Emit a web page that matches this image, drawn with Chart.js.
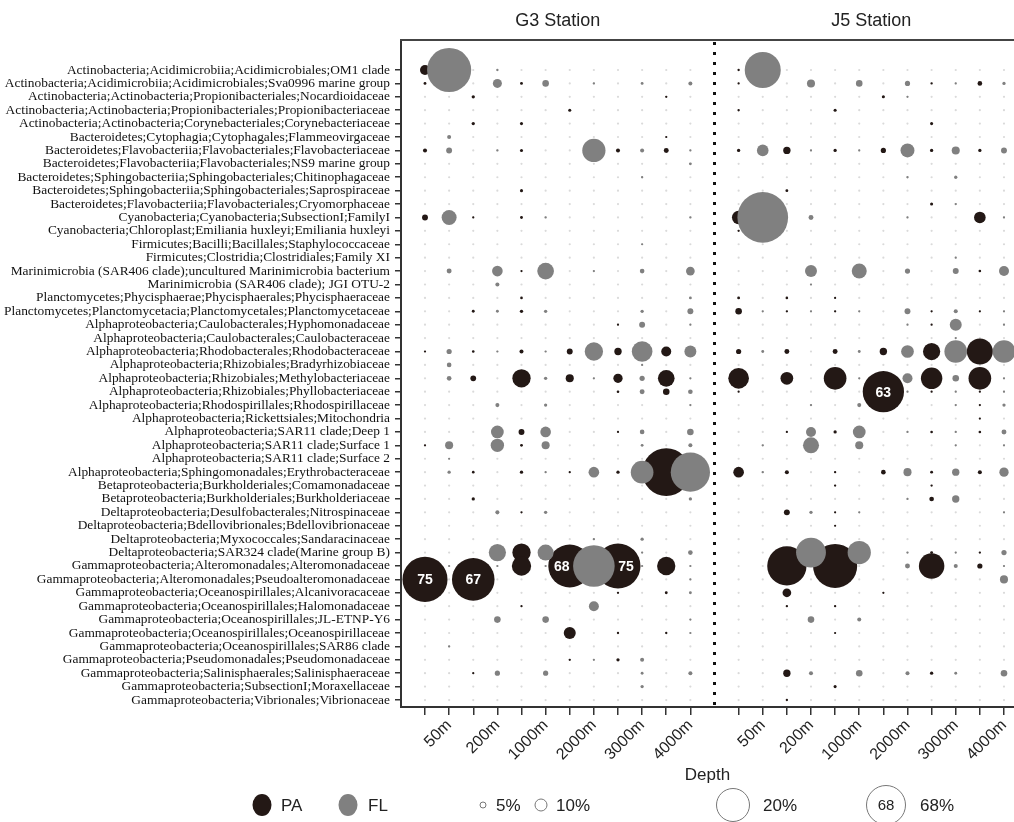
<!DOCTYPE html>
<html><head><meta charset="utf-8">
<script src="https://cdn.jsdelivr.net/npm/chart.js@4.4.0/dist/chart.umd.min.js"></script>
<style>html,body{margin:0;padding:0;background:#fff;}#wrap{width:1014px;height:822px;}</style>
</head><body><div id="wrap"><canvas id="c" width="1014" height="822"></canvas></div>
<script>
const taxa = [
"Actinobacteria;Acidimicrobiia;Acidimicrobiales;OM1 clade",
"Actinobacteria;Acidimicrobiia;Acidimicrobiales;Sva0996 marine group",
"Actinobacteria;Actinobacteria;Propionibacteriales;Nocardioidaceae",
"Actinobacteria;Actinobacteria;Propionibacteriales;Propionibacteriaceae",
"Actinobacteria;Actinobacteria;Corynebacteriales;Corynebacteriaceae",
"Bacteroidetes;Cytophagia;Cytophagales;Flammeovirgaceae",
"Bacteroidetes;Flavobacteriia;Flavobacteriales;Flavobacteriaceae",
"Bacteroidetes;Flavobacteriia;Flavobacteriales;NS9 marine group",
"Bacteroidetes;Sphingobacteriia;Sphingobacteriales;Chitinophagaceae",
"Bacteroidetes;Sphingobacteriia;Sphingobacteriales;Saprospiraceae",
"Bacteroidetes;Flavobacteriia;Flavobacteriales;Cryomorphaceae",
"Cyanobacteria;Cyanobacteria;SubsectionI;FamilyI",
"Cyanobacteria;Chloroplast;Emiliania huxleyi;Emiliania huxleyi",
"Firmicutes;Bacilli;Bacillales;Staphylococcaceae",
"Firmicutes;Clostridia;Clostridiales;Family XI",
"Marinimicrobia (SAR406 clade);uncultured Marinimicrobia bacterium",
"Marinimicrobia (SAR406 clade); JGI OTU-2",
"Planctomycetes;Phycisphaerae;Phycisphaerales;Phycisphaeraceae",
"Planctomycetes;Planctomycetacia;Planctomycetales;Planctomycetaceae",
"Alphaproteobacteria;Caulobacterales;Hyphomonadaceae",
"Alphaproteobacteria;Caulobacterales;Caulobacteraceae",
"Alphaproteobacteria;Rhodobacterales;Rhodobacteraceae",
"Alphaproteobacteria;Rhizobiales;Bradyrhizobiaceae",
"Alphaproteobacteria;Rhizobiales;Methylobacteriaceae",
"Alphaproteobacteria;Rhizobiales;Phyllobacteriaceae",
"Alphaproteobacteria;Rhodospirillales;Rhodospirillaceae",
"Alphaproteobacteria;Rickettsiales;Mitochondria",
"Alphaproteobacteria;SAR11 clade;Deep 1",
"Alphaproteobacteria;SAR11 clade;Surface 1",
"Alphaproteobacteria;SAR11 clade;Surface 2",
"Alphaproteobacteria;Sphingomonadales;Erythrobacteraceae",
"Betaproteobacteria;Burkholderiales;Comamonadaceae",
"Betaproteobacteria;Burkholderiales;Burkholderiaceae",
"Deltaproteobacteria;Desulfobacterales;Nitrospinaceae",
"Deltaproteobacteria;Bdellovibrionales;Bdellovibrionaceae",
"Deltaproteobacteria;Myxococcales;Sandaracinaceae",
"Deltaproteobacteria;SAR324 clade(Marine group B)",
"Gammaproteobacteria;Alteromonadales;Alteromonadaceae",
"Gammaproteobacteria;Alteromonadales;Pseudoalteromonadaceae",
"Gammaproteobacteria;Oceanospirillales;Alcanivoracaceae",
"Gammaproteobacteria;Oceanospirillales;Halomonadaceae",
"Gammaproteobacteria;Oceanospirillales;JL-ETNP-Y6",
"Gammaproteobacteria;Oceanospirillales;Oceanospirillaceae",
"Gammaproteobacteria;Oceanospirillales;SAR86 clade",
"Gammaproteobacteria;Pseudomonadales;Pseudomonadaceae",
"Gammaproteobacteria;Salinisphaerales;Salinisphaeraceae",
"Gammaproteobacteria;SubsectionI;Moraxellaceae",
"Gammaproteobacteria;Vibrionales;Vibrionaceae"
];
const depths = ["50m","200m","1000m","2000m","3000m","4000m"];
const stations = ["G3 Station","J5 Station"];

// relative abundance (%) per taxon (rows) and depth (columns 50..4000m)
const g3PA = [
[3.7,0,0,0,0,0],[0.3,0,0.3,0,0,0],[0,0.4,0,0,0,0.2],[0,0,0,0.35,0,0],[0,0.4,0.35,0,0,0],
[0,0,0,0,0,0.1],[0.6,0,0.35,0,0.6,0.9],[0,0,0,0,0,0],[0,0,0,0,0,0],[0,0,0.35,0,0,0],
[0,0,0,0,0,0],[1.3,0.15,0.3,0,0,0],[0,0,0,0,0,0],[0,0,0,0,0,0],[0,0,0,0,0,0],
[0,0,0.15,0,0,0],[0,0,0,0,0,0],[0,0,0.25,0,0,0],[0,0.3,0.4,0,0,0],[0,0,0,0,0.15,0],
[0,0,0,0,0,0],[0.15,0.25,0.6,1.3,2,3.7],[0,0,0,0,0,0],[0,1.2,12.4,2.4,3.2,10.3],[0,0,0,0,0.25,1.6],
[0,0,0,0,0,0],[0,0,0,0,0,0],[0,0,1.3,0,0.15,0],[0.15,0,0.3,0,0,0],[0,0,0,0,0,0],
[0,0.25,0.4,0.15,0.4,85],[0,0,0,0,0,0],[0,0.4,0,0,0,0],[0,0,0.15,0,0,0],[0,0,0,0,0,0],
[0,0,0,0,0,0],[0,0,12.4,0,0,0],[0,0,13.8,68,75,12.4],[75,67,0,0,0,0],[0,0,0,0,0.2,0.3],
[0,0,0.15,0,0,0],[0,0,0,0,0,0],[0,0,0,5.3,0.2,0.2],[0,0,0,0,0,0],[0,0,0,0.2,0.4,0],
[0,0.15,0,0,0,0],[0,0,0,0,0,0],[0,0,0,0,0,0]
];
const g3FL = [
[72,0.2,0,0,0,0],[0,3,1.6,0.2,0.3,0.6],[0,0,0,0,0,0],[0,0,0,0,0,0],[0,0,0,0,0,0],
[0.6,0,0,0,0,0],[1.3,0.2,0,20,0.6,0.15],[0,0,0,0,0,0.3],[0,0,0,0,0.2,0],[0,0,0,0,0,0],
[0,0,0,0,0,0],[8.3,0,0.2,0,0,0.2],[0,0,0,0,0,0],[0,0,0,0,0.15,0],[0,0,0,0,0,0],
[0.9,4.2,10.3,0.15,0.8,2.8],[0,0.6,0,0,0,0],[0,0,0,0,0,0.3],[0,0.3,0.4,0,0.4,1.3],[0,0,0,0,1.3,0.1],
[0,0,0,0,0,0],[1,0.1,0.15,12.4,15.8,5.3],[0.8,0,0,0,0.1,0],[0.8,0,0.4,0.15,1,0.15],[0,0,0,0,0.9,0.8],
[0,0.6,0.4,0,0,0.15],[0,0,0,0,0,0],[0,6,4.2,0,0.8,1.6],[2.4,6.6,2.4,0,0.3,0.6],[0.15,0,0,0,0,0],
[0.4,0,0.15,4.2,19,57],[0,0,0,0,0,0],[0,0,0,0,0,0.4],[0,0.6,0.4,0,0,0],[0,0,0,0,0,0],
[0,0,0,0.2,0.4,0],[0,11,9.5,0,0.15,0.8],[0.1,0.1,0.15,64,0.15,0.15],[0,0,0,0,0,0.1],[0,0,0,0,0,0.3],
[0,0,0,3.7,0,0],[0,1.6,1.6,0,0,0.15],[0,0,0,0,0,0.15],[0.2,0,0,0,0,0],[0,0,0,0.15,0.6,0],
[0,1,1,0,0.3,0.6],[0,0,0,0,0.4,0],[0,0,0,0,0,0]
];
const j5PA = [
[0.2,0,0,0,0,0],[0.15,0,0,0,0.2,0.8],[0,0,0,0.35,0,0],[0.2,0,0.35,0,0,0],[0,0,0,0,0.35,0],
[0,0,0,0,0,0],[0.4,2,0.4,1,0.4,0.4],[0,0,0,0,0,0],[0,0,0,0,0,0],[0,0.3,0,0,0,0],
[0,0,0,0,0.35,0],[6.6,0,0,0,0,5],[0.2,0,0,0,0,0],[0,0,0,0,0,0],[0,0,0,0,0,0],
[0,0,0,0,0,0.25],[0,0,0,0,0,0],[0.3,0.25,0.15,0,0,0],[1.6,0.2,0.2,0,0.1,0.15],[0,0,0,0,0.1,0],
[0,0,0,0,0,0],[1,0.9,0.9,2,11,25],[0,0,0,0,0,0],[15.8,6,19,0,17,19],[0.15,0,0,63,0.1,0.1],
[0,0,0,0,0,0.15],[0,0,0,0,0,0.1],[0,0.15,0.4,0,0.25,0.25],[0,0,0,0,0,0],[0,0,0,0,0,0],
[4.2,0.6,0.2,0.8,0.3,0.6],[0,0,0.2,0,0.2,0],[0,0,0,0,0.8,0],[0,1.3,0.15,0,0,0],[0,0,0.15,0,0,0],
[0,0,0,0,0,0],[0,0,0,0,0.3,0.2],[0,57,72,0,24,1],[0,0,0,0,0,0],[0,2.8,0,0.1,0,0],
[0,0.2,0.2,0,0,0],[0,0,0,0,0,0],[0,0,0.15,0,0,0],[0,0,0,0,0,0],[0,0,0,0,0,0],
[0,2,0,0,0.4,0],[0,0,0.35,0,0,0],[0,0.2,0,0,0,0]
];
const j5FL = [
[48,0,0,0,0,0],[0,2.4,1.6,1,0.15,0.4],[0,0,0,0.15,0,0],[0,0,0,0,0,0],[0,0,0,0,0,0],
[0,0,0,0,0,0],[5,0.15,0.15,7.2,2.4,1.3],[0,0,0,0,0,0],[0,0,0,0.2,0.4,0],[0,0,0,0,0,0],
[0,0,0,0,0.2,0],[95,0.9,0,0.15,0,0.15],[0,0,0,0,0,0],[0,0,0,0,0,0],[0,0,0,0,0.15,0],
[0,5.3,8.3,1,1.3,3.7],[0,0.15,0,0,0,0],[0,0,0,0,0,0],[0.1,0.15,0.15,1.3,0.6,0.15],[0,0,0,0.1,5.3,0.1],
[0,0,0,0,0.1,0],[0.3,0,0.3,6,19,19],[0,0,0,0,0,0],[0,0,0.15,3.7,1.6,0.15],[0,0,0,0.15,0.15,0.1],
[0,0.2,0.6,0,0.1,0.4],[0,0,0,0,0,0],[0,3.7,6,0.15,0.15,0.9],[0.2,9.5,2.4,0,0.15,0.15],[0,0,0,0,0,0],
[0.2,0,0,2.4,2,3.2],[0,0,0,0,0,0],[0,0,0,0.15,2,0],[0,0.4,0.15,0,0,0.1],[0,0,0,0,0,0],
[0,0,0,0,0,0],[0,33,20,0.2,0.15,1],[0,0,0,0.9,0.6,0.1],[0,0,0,0,0,2.4],[0,0,0,0,0,0],
[0,0,0,0,0,0],[0,1.6,0.6,0,0,0],[0,0,0,0,0,0],[0,0,0,0,0,0],[0,0,0,0,0,0],
[0,0.6,1.6,0.6,0.3,1.6],[0,0,0,0,0,0],[0,0,0,0,0,0]
];
// cells whose value is written inside the bubble: [station, taxon row, depth]
const labelledPA = [[0,38,0],[0,38,1],[0,37,3],[0,37,4],[1,24,3]];
const legendSizes = [5,10,20,68];

const COL_PA = "#231815", COL_FL = "#808080", COL_BG = "#dadada";
const K = 2.6;
const rOf = v => Math.max(1.1, K * Math.sqrt(v));
const colOf = (s, d, f) => s * 13 + d * 2 + f;
const mats = [[g3PA, g3FL], [j5PA, j5FL]];

function points(f) {
  const out = [];
  mats.forEach((m, s) => m[f].forEach((row, i) => row.forEach((v, d) => {
    if (v > 0) out.push({x: colOf(s, d, f), y: i, r: rOf(v), v, s, d});
  })));
  return out;
}
const bgPts = [];
for (let s = 0; s < 2; s++) for (let i = 0; i < taxa.length; i++) for (let c = 0; c < 12; c++)
  bgPts.push({x: s * 13 + c, y: i, r: 1.1});

const SANS = "'Liberation Sans', Arial, sans-serif";

const decor = {
  id: 'decor',
  beforeDatasetsDraw(chart) {
    const {ctx, chartArea: a, scales: {x}} = chart;
    ctx.save();
    ctx.strokeStyle = '#444'; ctx.lineWidth = 2;
    ctx.beginPath(); ctx.moveTo(a.left - 1, a.top); ctx.lineTo(a.right, a.top); ctx.stroke();
    const sx = Math.round(x.getPixelForValue(12)) + 0.5;
    ctx.strokeStyle = '#111'; ctx.lineWidth = 3; ctx.setLineDash([3, 7]);
    ctx.beginPath(); ctx.moveTo(sx, a.top + 2); ctx.lineTo(sx, a.bottom); ctx.stroke();
    ctx.setLineDash([]);
    ctx.fillStyle = '#222'; ctx.font = "18px " + SANS; ctx.textAlign = 'center'; ctx.textBaseline = 'middle';
    ctx.fillText(stations[0], x.getPixelForValue(5.5), 21);
    ctx.fillText(stations[1], x.getPixelForValue(18.5), 21);
    ctx.restore();
  },
  afterDatasetsDraw(chart) {
    const {ctx} = chart;
    const meta = chart.getDatasetMeta(1);
    ctx.save();
    ctx.fillStyle = '#fff'; ctx.font = "bold 14px " + SANS; ctx.textAlign = 'center'; ctx.textBaseline = 'middle';
    const shift = {'0-37-3': -8, '0-37-4': 8};
    meta.data.forEach((el, k) => {
      const p = chart.data.datasets[1].data[k];
      if (labelledPA.some(l => l[0] === p.s && l[1] === p.y && l[2] === p.d)) {
        const dx = shift[p.s + '-' + p.y + '-' + p.d] || 0;
        ctx.fillText(String(p.v), el.x + dx, el.y + 1);
      }
    });
    ctx.restore();
  },
  afterDraw(chart) {
    const {ctx} = chart;
    const y = 805;
    ctx.save();
    ctx.textBaseline = 'middle'; ctx.textAlign = 'left'; ctx.font = "17px " + SANS; ctx.fillStyle = '#222';
    ctx.fillStyle = COL_PA; ctx.beginPath(); ctx.ellipse(262, y, 9.5, 11, 0, 0, Math.PI * 2); ctx.fill();
    ctx.fillStyle = '#222'; ctx.fillText('PA', 281, y + 1);
    ctx.fillStyle = COL_FL; ctx.beginPath(); ctx.ellipse(348, y, 9.5, 11, 0, 0, Math.PI * 2); ctx.fill();
    ctx.fillStyle = '#222'; ctx.fillText('FL', 368, y + 1);
    const lx = [483, 541, 733, 886], lr = [3, 6, 16.5, 19.5], tx = [496, 556, 763, 920];
    ctx.strokeStyle = '#777'; ctx.lineWidth = 1;
    legendSizes.forEach((v, i) => {
      ctx.beginPath(); ctx.arc(lx[i], y, lr[i], 0, Math.PI * 2); ctx.stroke();
      ctx.fillStyle = '#222'; ctx.fillText(v + '%', tx[i], y + 1);
    });
    ctx.textAlign = 'center'; ctx.font = "15px " + SANS;
    ctx.fillText(String(legendSizes[3]), lx[3], y + 1);
    ctx.restore();
  }
};

new Chart(document.getElementById('c'), {
  type: 'bubble',
  data: {datasets: [
    {label: 'FL', data: points(1), backgroundColor: COL_FL, borderWidth: 0, order: 0},
    {label: 'PA', data: points(0), backgroundColor: COL_PA, borderWidth: 0, order: 1},
    {label: 'bg', data: bgPts, backgroundColor: COL_BG, borderWidth: 0, order: 2}
  ]},
  options: {
    responsive: false, animation: false, devicePixelRatio: 1, events: [],
    layout: {autoPadding: false, padding: {top: 40, right: 0, bottom: 0, left: 0}},
    plugins: {legend: {display: false}, tooltip: {enabled: false}},
    elements: {point: {hoverRadius: 0}},
    clip: false,
    scales: {
      x: {
        type: 'linear', min: -0.995, max: 24.415,
        afterBuildTicks: sc => { const t = []; for (let i = 0; i < 25; i++) if (i !== 12) t.push({value: i}); sc.ticks = t; },
        afterFit: sc => { sc.height = 115; sc.paddingLeft = 0; sc.paddingRight = 0; },
        ticks: {
          autoSkip: false, minRotation: 45, maxRotation: 45, padding: 1, color: '#222',
          font: {family: SANS, size: 16},
          callback: v => { const l = v < 12 ? v : v - 13; return l % 2 === 1 ? depths[(l - 1) / 2] : ''; }
        },
        grid: {drawOnChartArea: false, drawTicks: true, tickLength: 8, color: '#333', lineWidth: 1.5},
        border: {display: true, color: '#333', width: 2},
        title: {display: true, text: 'Depth', color: '#222', font: {family: SANS, size: 17}, padding: {top: 0, bottom: 36}}
      },
      y: {
        type: 'linear', reverse: true, min: -2.238, max: 47.52,
        afterBuildTicks: sc => { sc.ticks = taxa.map((t, i) => ({value: i})); },
        afterFit: sc => { sc.width = 401; sc.paddingTop = 0; sc.paddingBottom = 0; },
        ticks: {autoSkip: false, padding: 5, color: '#111', font: {family: "'Liberation Serif', 'Times New Roman', serif", size: 13.4},
          callback: v => taxa[v]},
        grid: {drawOnChartArea: false, tickLength: 6, color: '#333', lineWidth: 1.5},
        border: {display: true, color: '#333', width: 2}
      }
    }
  },
  plugins: [decor]
});
</script></body></html>
